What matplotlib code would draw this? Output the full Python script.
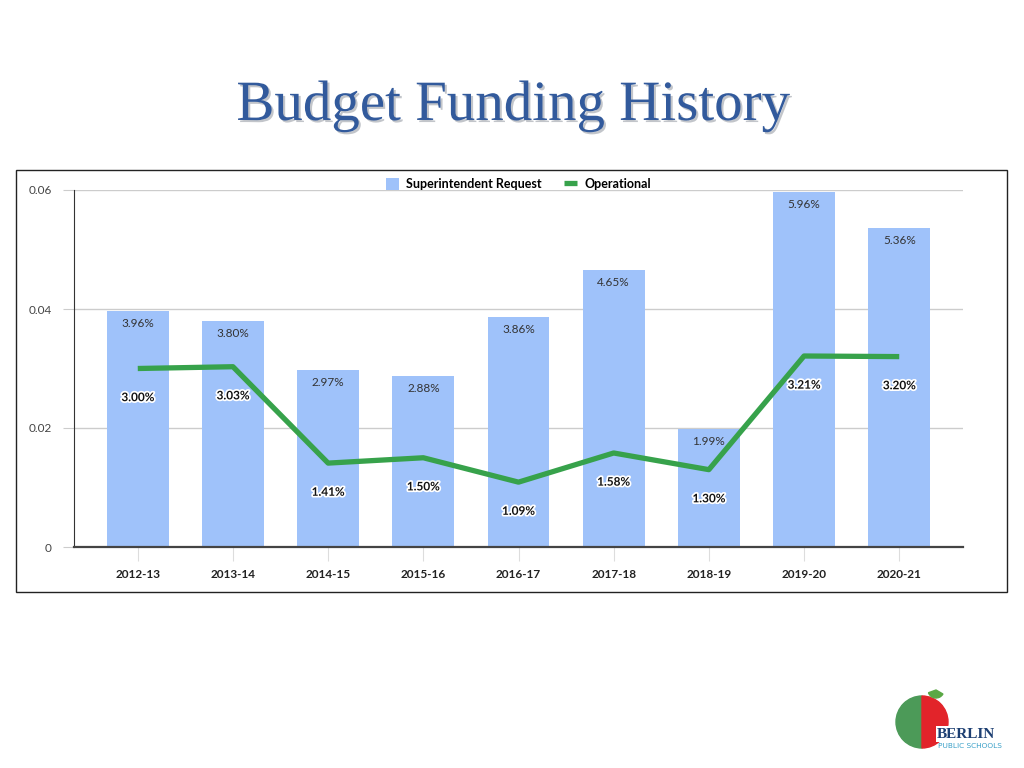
import matplotlib
matplotlib.use("Agg")
import matplotlib.pyplot as plt
import matplotlib.patheffects as pe
from matplotlib.patches import Rectangle, Wedge

# data
years = ["2012-13", "2013-14", "2014-15", "2015-16", "2016-17",
         "2017-18", "2018-19", "2019-20", "2020-21"]
superintendent = [0.0396, 0.0380, 0.0297, 0.0288, 0.0386, 0.0465, 0.0199, 0.0596, 0.0536]
operational = [0.0300, 0.0303, 0.0141, 0.0150, 0.0109, 0.0158, 0.0130, 0.0321, 0.0320]
yticks = [0, 0.02, 0.04, 0.06]
ytick_labels = ["0", "0.02", "0.04", "0.06"]

BAR = "#9fc2fa"
GREEN = "#37a24b"
FONT = ["Lato", "DejaVu Sans"]

fig = plt.figure(figsize=(10.24, 7.68), dpi=100)
fig.patch.set_facecolor("white")

# slide title
fig.text(0.5015, 0.862, "Budget Funding History", ha="center", va="center",
         fontsize=41, family="Liberation Serif", color="#325a9c",
         path_effects=[pe.withSimplePatchShadow(offset=(1.5, -1.5), alpha=0.25)])

# chart frame
fig.add_artist(Rectangle((16 / 1024, 1 - 592 / 768), 991 / 1024, 422 / 768,
                         transform=fig.transFigure, fill=False, lw=1.0, ec="#222222"))

ax = fig.add_axes([74 / 1024, 1 - 547 / 768, 889 / 1024, 357 / 768])
x = range(len(years))
bars = ax.bar(x, superintendent, width=0.65, color=BAR, label="Superintendent Request", zorder=2)
line, = ax.plot(x, operational, color=GREEN, lw=3.8, solid_capstyle="butt",
                label="Operational", zorder=3)

for b, v in zip(bars, superintendent):
    ax.annotate(f"{v * 100:.2f}%", (b.get_x() + b.get_width() / 2, v), xytext=(0, -5),
                textcoords="offset points", ha="center", va="top", fontsize=8.5,
                family=FONT, color="#333333")
for i, v in enumerate(operational):
    ax.annotate(f"{v * 100:.2f}%", (i, v), xytext=(0, -21), textcoords="offset points",
                ha="center", va="center", fontsize=8.5, family=FONT, fontweight="bold",
                color="#111111", path_effects=[pe.withStroke(linewidth=2.5, foreground="white")],
                zorder=4)

ax.set_xlim(-0.67, len(years) - 0.33)
ax.set_ylim(0, 0.06)
ax.set_yticks(yticks)
ax.set_yticklabels(ytick_labels, family=FONT, fontsize=8.5, color="#444444")
ax.set_xticks(list(x))
ax.set_xticklabels(years, family=FONT, fontsize=8.5, fontweight="bold", color="#222222")
ax.tick_params(axis="x", length=10, color="#dddddd", pad=6)
ax.tick_params(axis="y", length=8, color="#cccccc", pad=8)
ax.grid(axis="y", color="#cccccc", lw=1.0, zorder=0)
ax.set_axisbelow(True)
for s in ["top", "right"]:
    ax.spines[s].set_visible(False)
ax.spines["left"].set_color("#333333")
ax.spines["bottom"].set_color("#444444")
ax.spines["bottom"].set_linewidth(1.6)

ax.legend([bars, line], ["Superintendent Request", "Operational"],
          loc="lower center", bbox_to_anchor=(0.5, 0.985), ncol=2, frameon=False,
          prop={"family": FONT, "size": 9, "weight": "bold"},
          handlelength=1.0, handleheight=1.0, columnspacing=1.8, handletextpad=0.6,
          borderaxespad=0.0)

# logo stand-in: half-green / half-red apple plus school name
lax = fig.add_axes([890 / 1024, 1 - 760 / 768, 130 / 1024, 80 / 768])
lax.set_xlim(0, 130)
lax.set_ylim(0, 80)
lax.set_aspect("equal")
lax.axis("off")
lax.add_patch(Wedge((32, 38), 26, 90, 270, color="#4c9a58"))
lax.add_patch(Wedge((32, 38), 26, 270, 90, color="#e2242a"))
lax.add_patch(Wedge((46, 70), 8, 200, 330, color="#5aa845"))
lax.text(47, 26, "BERLIN", fontsize=11, fontweight="bold", family="Liberation Serif",
         color="#1d3f72", va="center", bbox=dict(fc="white", ec="none", pad=1))
lax.text(48, 14, "PUBLIC SCHOOLS", fontsize=5.3, family="DejaVu Sans",
         color="#3aa0c8", va="center")

fig.savefig("out.png", dpi=100)
